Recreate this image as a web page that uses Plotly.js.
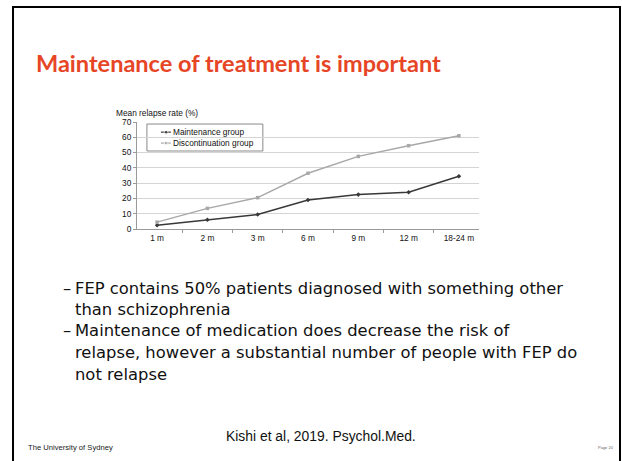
<!DOCTYPE html>
<html>
<head>
<meta charset="utf-8">
<script src="https://cdn.plot.ly/plotly-3.0.1.min.js"></script>
<style>
html,body{margin:0;padding:0;width:622px;height:461px;overflow:hidden;background:#fff;}
#frame{position:absolute;left:12px;top:6px;width:605px;height:480px;border:2px solid #000;}
.t{position:absolute;white-space:nowrap;}
#title{left:36px;top:51px;font-family:Lato,"Open Sans",sans-serif;font-weight:700;color:#e64626;font-size:19px;line-height:24px;}
.b{font-family:"DejaVu Sans",sans-serif;font-size:15px;line-height:20px;color:#111;}
#chart{position:absolute;left:100px;top:100px;width:400px;height:150px;}
</style>
</head>
<body>
<div id="frame"></div>
<div class="t" id="title" data-w="405">Maintenance of treatment is important</div>
<div class="t b" style="left:63px;top:279px;">–</div>
<div class="t b" style="left:75px;top:279px;" data-w="488">FEP contains 50% patients diagnosed with something other</div>
<div class="t b" style="left:75px;top:300px;">than schizophrenia</div>
<div class="t b" style="left:63px;top:321px;">–</div>
<div class="t b" style="left:75px;top:321px;">Maintenance of medication does decrease the risk of</div>
<div class="t b" style="left:75px;top:343px;">relapse, however a substantial number of people with FEP do</div>
<div class="t b" style="left:75px;top:365px;">not relapse</div>
<div class="t" id="cite" style="left:226px;top:427px;font-family:'Liberation Sans',Arial,sans-serif;font-size:13px;line-height:18px;color:#111;" data-w="190">Kishi et al, 2019. Psychol.Med.</div>
<div class="t" style="left:28px;top:443px;font-family:'Liberation Sans',Arial,sans-serif;font-size:8px;line-height:10px;color:#222;" data-w="85">The University of Sydney</div>
<div class="t" style="left:598px;top:445px;font-family:'Liberation Sans',Arial,sans-serif;font-size:4px;line-height:6px;color:#666;">Page 20</div>
<div id="chart"></div>
<script>
// Data
var categories = ["1 m", "2 m", "3 m", "6 m", "9 m", "12 m", "18-24 m"];
var maintenance = [2.5, 6, 9.5, 19, 22.5, 24, 34.5];
var discontinuation = [4.5, 13.5, 20.5, 36.5, 47.5, 54.5, 61];
var seriesNames = ["Maintenance group", "Discontinuation group"];
var yTicks = [0, 10, 20, 30, 40, 50, 60, 70];

// fit text widths
var bodyScale = null;
document.querySelectorAll('[data-w]').forEach(function(el){
  var target = parseFloat(el.getAttribute('data-w'));
  var fs = parseFloat(getComputedStyle(el).fontSize);
  var w = el.getBoundingClientRect().width;
  var nfs = fs * target / w;
  el.style.fontSize = nfs + 'px';
  if (el.classList.contains('b')) bodyScale = nfs;
});
if (bodyScale) document.querySelectorAll('.b').forEach(function(el){ el.style.fontSize = bodyScale + 'px'; });

var fam = "'Liberation Sans', Arial, sans-serif";
var font = {family: fam, size: 8.3, color: '#111'};
var colors = ['#383838', '#a8a8a8'];
var symbols = ['diamond', 'square'];
var seriesData = [maintenance, discontinuation];

var traces = seriesData.map(function(vals, i){
  return {x: categories, y: vals, name: seriesNames[i], type: 'scatter', mode: 'lines+markers',
          line: {color: colors[i], width: 1.5}, marker: {symbol: symbols[i], size: 3.5, color: colors[i]},
          showlegend: false};
});

// compact legend drawn on overlay axes
var legBox = {x0: 0.029, x1: 0.368, y0: 0.729, y1: 0.981};
var rowY = [0.905, 0.803];
var symX = [0.070, 0.085, 0.099];
var shapes = [{type: 'rect', xref: 'paper', yref: 'paper', x0: legBox.x0, x1: legBox.x1, y0: legBox.y0, y1: legBox.y1,
               fillcolor: '#fff', line: {color: '#8a8a8a', width: 1}, layer: 'between'}];
var annotations = [{text: 'Mean relapse rate (%)', xref: 'paper', yref: 'paper', x: -0.068, y: 1.02, xanchor: 'left', yanchor: 'bottom',
                 showarrow: false, font: {family: fam, size: 8.3, color: '#111'}}];
seriesNames.forEach(function(n, i){
  traces.push({x: symX, y: [rowY[i], rowY[i], rowY[i]], xaxis: 'x2', yaxis: 'y2', type: 'scatter', mode: 'lines+markers',
               line: {color: colors[i], width: 1.2}, marker: {symbol: symbols[i], size: [0, 3.5, 0], color: colors[i]},
               showlegend: false, hoverinfo: 'skip'});
  annotations.push({text: n, xref: 'paper', yref: 'paper', x: 0.098, y: rowY[i], xanchor: 'left', yanchor: 'middle',
                    showarrow: false, font: {family: fam, size: 8.3, color: '#111'}});
});

var layout = {
  width: 400, height: 150,
  margin: {l: 37, r: 21, t: 22, b: 21, pad: 0},
  paper_bgcolor: 'rgba(0,0,0,0)', plot_bgcolor: 'rgba(0,0,0,0)',
  font: font,
  showlegend: false,
  xaxis: {type: 'category', tickvals: categories, ticktext: categories, showgrid: false, showline: true, linecolor: '#9a9a9a', linewidth: 1,
          ticks: 'outside', tickson: 'boundaries', ticklen: 3, tickcolor: '#9a9a9a', tickfont: font, zeroline: false, fixedrange: true,
          ticklabelstandoff: 1},
  yaxis: {range: [0, 70], tickvals: yTicks, ticktext: yTicks.map(String), showgrid: true, gridcolor: '#d4d4d4', gridwidth: 1,
          showline: true, linecolor: '#9a9a9a', linewidth: 1, ticks: 'outside', ticklen: 3, tickcolor: '#9a9a9a',
          tickfont: font, zeroline: false, fixedrange: true},
  xaxis2: {overlaying: 'x', range: [0, 1], visible: false, fixedrange: true},
  yaxis2: {overlaying: 'y', range: [0, 1], visible: false, fixedrange: true},
  shapes: shapes,
  annotations: annotations
};
Plotly.newPlot('chart', traces, layout, {staticPlot: true, displayModeBar: false});
</script>
</body>
</html>
